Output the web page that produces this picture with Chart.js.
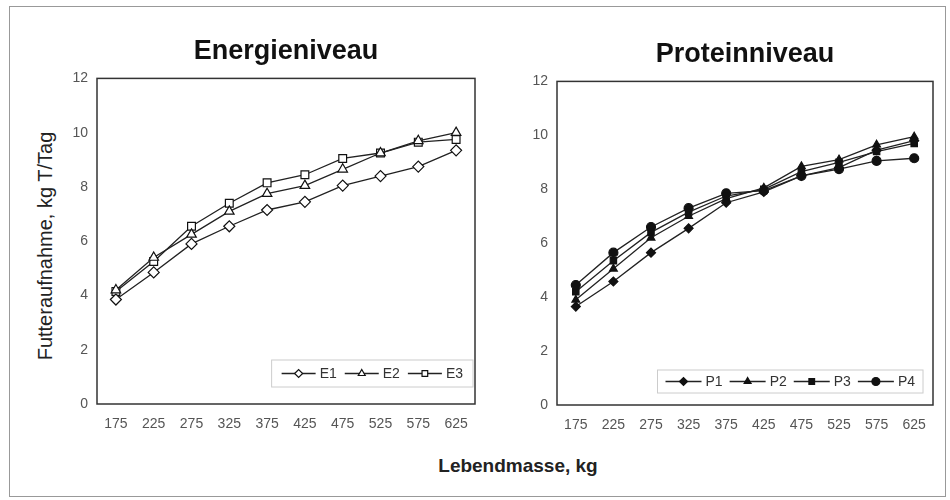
<!DOCTYPE html>
<html>
<head>
<meta charset="utf-8">
<script src="https://cdn.jsdelivr.net/npm/chart.js@4/dist/chart.umd.min.js"></script>
<style>
  html, body { margin: 0; padding: 0; background: #fff; overflow: hidden; }
  body { width: 950px; height: 500px; position: relative; font-family: 'Liberation Sans', Arial, sans-serif; }
  .frame { position: absolute; left: 9px; top: 6px; width: 935px; height: 489px; border: 1px solid #999; }
  canvas { position: absolute; }
  #energie { left: 60px; top: 20px; }
  #protein { left: 525px; top: 23px; }
  .ylabel { position: absolute; left: 45px; top: 246px; transform: translate(-50%, -50%) rotate(-90deg);
            font-size: 20px; color: #222; white-space: nowrap; }
  .xlabel { position: absolute; left: 518px; top: 466px; transform: translate(-50%, -50%);
            font-size: 19px; font-weight: bold; color: #222; white-space: nowrap; }
</style>
</head>
<body>
<div class="frame"></div>
<canvas id="energie" width="452" height="430"></canvas>
<canvas id="protein" width="426" height="430"></canvas>
<div class="ylabel">Futteraufnahme, kg T/Tag</div>
<div class="xlabel">Lebendmasse, kg</div>
<script>
// Lebendmasse (kg) – categories on both panels
const weights = ['175', '225', '275', '325', '375', '425', '475', '525', '575', '625'];
const yTicks = [0, 2, 4, 6, 8, 10, 12];

// Energieniveau
const e1 = [3.85, 4.85, 5.9, 6.55, 7.15, 7.45, 8.05, 8.4, 8.75, 9.35];
const e2 = [4.2, 5.4, 6.25, 7.1, 7.75, 8.05, 8.65, 9.25, 9.7, 10.0];
const e3 = [4.15, 5.25, 6.55, 7.4, 8.15, 8.45, 9.05, 9.25, 9.65, 9.75];

// Proteinniveau
const p1 = [3.65, 4.58, 5.65, 6.55, 7.5, 7.9, 8.5, 8.8, 9.45, 9.8];
const p2 = [3.9, 5.05, 6.2, 7.0, 7.65, 8.05, 8.85, 9.1, 9.65, 9.95];
const p3 = [4.2, 5.35, 6.4, 7.15, 7.75, 8.0, 8.65, 9.0, 9.4, 9.7];
const p4 = [4.45, 5.65, 6.6, 7.3, 7.85, 7.95, 8.5, 8.75, 9.05, 9.15];

const LINE = '#222';
const TICK_FONT = { family: "'Liberation Sans', Arial, sans-serif", size: 14 };

// rectangle round the plot area
const plotFrame = {
    id: 'plotFrame',
    afterDraw(chart) {
        const { ctx, chartArea: a } = chart;
        ctx.save();
        ctx.strokeStyle = '#333';
        ctx.lineWidth = 1.5;
        ctx.strokeRect(a.left, a.top, a.width, a.height);
        ctx.restore();
    }
};

// legend drawn inside the plot, bottom right, line + marker per series
const innerLegend = {
    id: 'innerLegend',
    afterDraw(chart, args, opts) {
        const { ctx, chartArea: a } = chart;
        const sets = chart.data.datasets;
        ctx.save();
        ctx.font = opts.font;
        const items = sets.map(ds => ({ ds, tw: ctx.measureText(ds.label).width }));
        let total = 0;
        items.forEach(it => { total += opts.sample + opts.gap + it.tw; });
        total += opts.spacing * (items.length - 1);
        const w = total + 2 * opts.pad;
        const right = a.right - opts.right;
        const top = a.bottom - opts.bottom - opts.height;
        const left = right - w;
        ctx.fillStyle = '#fff';
        ctx.fillRect(left, top, w, opts.height);
        ctx.strokeStyle = '#ccc';
        ctx.lineWidth = 1;
        ctx.strokeRect(left, top, w, opts.height);
        const cy = top + opts.height / 2;
        let x = left + opts.pad;
        items.forEach(it => {
            const ds = it.ds;
            ctx.strokeStyle = ds.borderColor;
            ctx.lineWidth = ds.borderWidth;
            ctx.beginPath();
            ctx.moveTo(x, cy);
            ctx.lineTo(x + opts.sample, cy);
            ctx.stroke();
            ctx.fillStyle = ds.pointBackgroundColor;
            ctx.strokeStyle = ds.pointBorderColor;
            ctx.lineWidth = ds.pointBorderWidth;
            Chart.helpers.drawPoint(ctx, {
                pointStyle: ds.pointStyle,
                radius: opts.radius,
                borderWidth: ds.pointBorderWidth,
                rotation: 0
            }, x + opts.sample / 2, cy);
            ctx.fillStyle = '#333';
            ctx.textBaseline = 'middle';
            ctx.textAlign = 'left';
            ctx.fillText(ds.label, x + opts.sample + opts.gap, cy + 1);
            x += opts.sample + opts.gap + it.tw + opts.spacing;
        });
        ctx.restore();
    }
};

function series(label, data, style, filled, radius) {
    return {
        label: label,
        data: data,
        borderColor: LINE,
        borderWidth: 1.3,
        pointStyle: style,
        pointRadius: radius,
        pointBackgroundColor: filled ? '#111' : '#fff',
        pointBorderColor: '#111',
        pointBorderWidth: 1.2,
        tension: 0
    };
}

function panel(id, title, datasets, yWidth, padRight, xHeight, legend) {
    return new Chart(document.getElementById(id), {
        type: 'line',
        data: { labels: weights, datasets: datasets },
        options: {
            responsive: false,
            animation: false,
            layout: { padding: { left: 0, right: padRight, top: 0, bottom: 0 } },
            plugins: {
                legend: { display: false },
                tooltip: { enabled: false },
                title: {
                    display: true,
                    fullSize: false,
                    text: title,
                    color: '#111',
                    font: { family: "'Liberation Sans', Arial, sans-serif", size: 27, weight: 'bold' },
                    padding: { top: 15, bottom: 11 }
                },
                innerLegend: legend
            },
            scales: {
                x: {
                    offset: true,
                    grid: { display: false, drawTicks: false },
                    border: { display: false },
                    ticks: { color: '#555', font: TICK_FONT, padding: 12, maxRotation: 0, autoSkip: false },
                    afterFit: s => { s.height = xHeight; }
                },
                y: {
                    min: 0,
                    max: 12,
                    afterBuildTicks: s => { s.ticks = yTicks.map(v => ({ value: v })); },
                    grid: { display: false, drawTicks: false },
                    border: { display: false },
                    ticks: { color: '#555', font: TICK_FONT, padding: 9 },
                    afterFit: s => { s.width = yWidth; }
                }
            }
        },
        plugins: [plotFrame, innerLegend]
    });
}

panel('energie', 'Energieniveau', [
    series('E1', e1, 'rectRot', false, 5.5),
    series('E2', e2, 'triangle', false, 5.5),
    series('E3', e3, 'rect', false, 5.5)
], 37, 37, 46, {
    font: "14px 'Liberation Sans', Arial, sans-serif",
    sample: 34, gap: 4, spacing: 8, pad: 10, radius: 4,
    right: 2, bottom: 17, height: 27
});

panel('protein', 'Proteinniveau', [
    series('P1', p1, 'rectRot', true, 4.5),
    series('P2', p2, 'triangle', true, 4.5),
    series('P3', p3, 'rect', true, 4.5),
    series('P4', p4, 'circle', true, 4.5)
], 32, 18, 48, {
    font: "14px 'Liberation Sans', Arial, sans-serif",
    sample: 36, gap: 4, spacing: 7, pad: 8, radius: 4,
    right: 10, bottom: 12, height: 23
});
</script>
</body>
</html>
